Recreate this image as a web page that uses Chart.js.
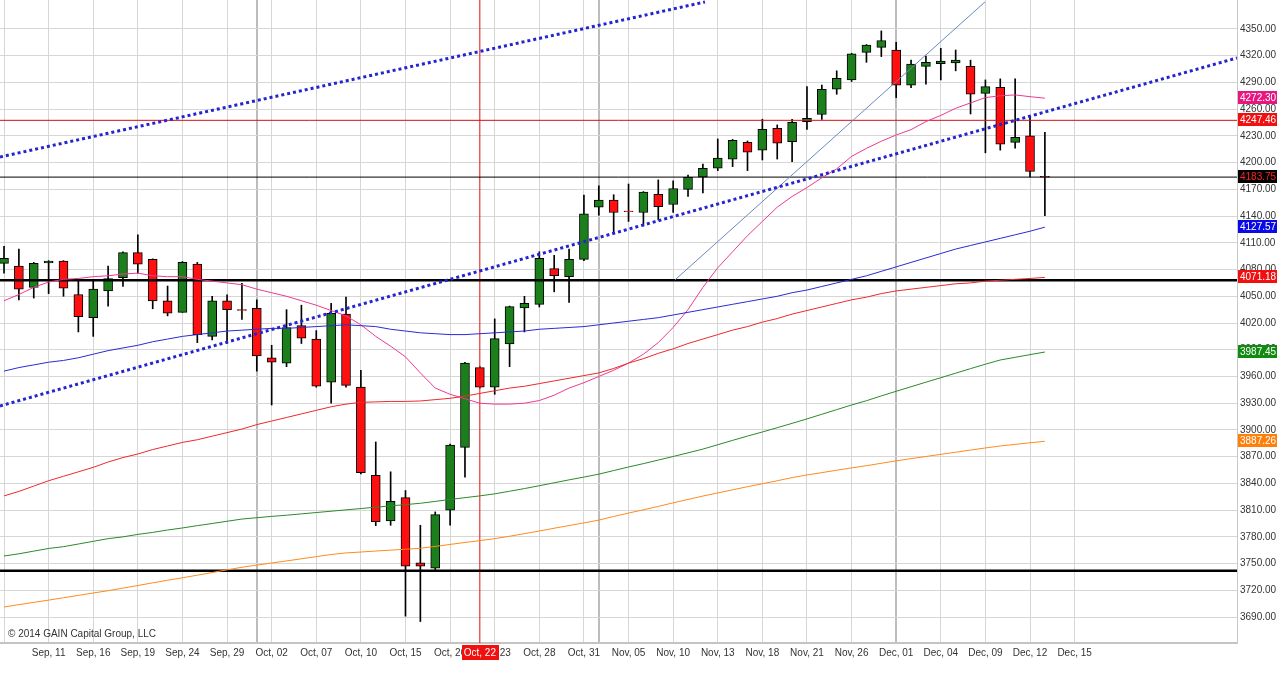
<!DOCTYPE html>
<html><head><meta charset="utf-8">
<script src="https://cdn.jsdelivr.net/npm/chart.js@4.4.1/dist/chart.umd.min.js"></script>
<style>html,body{margin:0;padding:0;background:#fff;overflow:hidden}</style>
</head><body>
<canvas id="c" width="1280" height="673"></canvas>
<script>
// ---- data (one entry per trading session, index 0 = Sep 08 2014) ----
const opens = [4087,4084,4060,4087.5,4089.6,4052,4026,4056,4071,4099, 4091.5,4045,4032,4086,4005,4045,4035,4036.5,3981,3975, 4017,4002,3953.5,4030,3948,3849,3798,3824,3751,3745, 3810,3880.5,3970,3948,3996.5,4037,4041,4081,4072,4091.5, 4150,4158,4145.5,4144,4164.5,4153,4170,4183.6,4193.7,4203.8, 4222.8,4214,4238.6,4223.6,4246,4254,4282.3,4292.8,4323.8,4329.4, 4326.4,4286.8,4308,4311,4312,4308,4277.8,4284.5,4222.8,4230,4184.6];
const highs = [4106,4103,4088,4090,4090,4068,4068,4084,4100,4119, 4092,4061.5,4089,4088,4050,4051.5,4064.5,4046,3995,4035, 4040,4011.5,4042,4049,3967,3886.5,3853,3832,3793,3808, 3884,3976,3971,4024.6,4039,4050,4100,4096,4103,4163.7, 4174,4164,4176,4167.5,4180.6,4179.5,4186,4198.5,4226.6,4226, 4224.3,4248.7,4242.3,4248.7,4285.3,4287,4303,4322.7,4332.5,4347.8, 4335,4315,4319.7,4328.3,4326.4,4315,4292.8,4294,4294,4251.6,4234];
const lows = [4076,4046,4048,4053,4050,4010,4005,4039,4061,4076, 4036,4028,4032,3998,4001,3997,4024,3966,3928,3971, 3997,3948,3930,3948,3850.6,3792.6,3793,3691,3685,3741, 3793,3847,3947,3940,3971,4010,4038,4055,4043,4090, 4141,4120,4134,4129,4135.7,4144,4162,4166,4191,4195.5, 4191,4203,4204,4201,4237.4,4248.6,4276.7,4291,4312.6,4319, 4273,4284,4288,4292.8,4303,4254.6,4211,4214,4216.1,4184,4140.5];
const closes = [4092.6,4058,4087,4089.5,4059,4027,4058,4070,4099,4086, 4044.7,4031,4088,4007,4045,4035,4034,3983,3976,4015, 4003,3949,4031,3950,3852,3797,3820,3747,3747,3805, 3883,3975,3948,4002.5,4038.4,4042,4092.7,4073,4091.5,4142.4, 4158,4144,4145,4167,4150.6,4171,4183.6,4193.7,4205,4225, 4211.6,4237.4,4221.7,4245.3,4249.7,4282.3,4294.6,4322,4332,4337, 4286.8,4310.7,4312.6,4314,4315,4276.7,4285.3,4220.6,4228.4,4190,4183.75];

const pinkMa = [4045,4052,4060,4066,4069,4070,4072,4073,4075,4076, 4073,4072,4072,4069,4067,4065,4063,4058,4054,4050, 4045,4040,4034,4028,4018,4005,3994,3982,3964,3947, 3940,3935,3930,3929,3929,3930,3933,3939,3947,3953, 3960,3967,3975,3985,3998,4015,4035,4060,4082,4100, 4118,4134,4150,4162,4172,4183,4193,4207,4216,4224, 4231,4237,4246,4253,4261,4267,4273,4275,4276,4274,4272.3];
const blueMa = [3966,3970,3973,3976,3978,3981,3985,3989,3992,3995, 3999,4002,4005,4007,4009,4011,4012,4013,4014,4014, 4015,4016,4017,4018,4017,4016,4013,4011,4009,4008, 4007,4007,4008,4009,4010,4011,4013,4014,4015,4016, 4018,4020,4022,4024,4026,4029,4032,4035,4038,4041, 4044,4047,4050,4054,4057,4061,4065,4069,4073,4078, 4083,4088,4093,4098,4103,4107,4111,4115,4119,4123,4127.57];
const redMa = [3826,3831,3837,3843,3848,3853,3858,3864,3869,3873, 3878,3882,3886,3889,3893,3897,3901,3906,3910,3914, 3918,3922,3926,3929,3931,3931.5,3932,3932,3932.5,3934, 3935.5,3938,3941,3944,3947,3949,3952,3955,3958,3961, 3964,3969,3975,3980,3986,3991,3997,4002,4007,4012, 4016,4021,4025,4030,4034,4038,4042,4046,4049,4053, 4056,4058,4060,4062,4064,4065,4067,4068,4069,4070,4071.18];
const greenMa = [3758.5,3761,3764,3767,3769,3772,3775,3778,3780,3782.8, 3785,3787.7,3790,3792.6,3795,3797.5,3800,3801.5,3803,3804.3, 3805.8,3807.3,3808.8,3810.3,3811.8,3813.3,3814.8,3816.2,3817.7,3819.8, 3822,3824,3826,3828.3,3831.2,3834.2,3837.4,3840.7,3844,3847.1, 3850.4,3854.4,3858.4,3862.2,3866.2,3870.2,3874.3,3878.5,3883.4,3888.3, 3893.1,3897.7,3902.5,3907.4,3912.4,3917.6,3922.8,3928,3932.8,3938.2, 3943.4,3948.5,3953.6,3958.6,3963.7,3968.8,3973.8,3978.5,3981.5,3984.5,3987.45];
const orangeMa = [3701.3,3704,3706.5,3709,3711.7,3714.3,3717,3719.6,3722.5,3725.4, 3728.4,3731.3,3734.1,3737,3740,3743,3745.9,3748.3,3750.7,3753, 3755.4,3757.8,3760.2,3762,3763,3764.1,3765.1,3766.1,3767.2,3769.3, 3771.5,3773.7,3775.8,3778,3780.7,3783.6,3786.6,3789.7,3792.7,3795.7, 3798.8,3802.9,3806.7,3810.4,3814.2,3818.2,3822,3825.8,3829.3,3832.8, 3836.3,3839.6,3843,3846.5,3849.5,3852.1,3854.8,3857.4,3859.9,3862.6, 3865.3,3867.8,3870.2,3872.6,3875,3877.4,3879.8,3882,3883.8,3885.6,3887.26];

// support / resistance levels
const thickLevels = [4068, 3742];
const redLevel = 4247.46;
const lastLevel = 4183.75;
const crossIndex = 32;           // Oct, 22 cursor
const crossLabel = 'Oct, 22';

// hand-drawn trend lines: [index, price] end points
const trendUpper = [[-0.27, 4206.3], [47.14, 4380.3]];
const trendLower = [[-0.27, 3926.9], [82.92, 4317.5]];
const trendThin  = [[45.12, 4068.3], [65.97, 4380.3]];

// axis ticks
const xTickIndex = [0,3,6,9,12,15,18,21,24,27,30,33,36,39,42,45,48,51,54,57,60,63,66,69,72];
const xTickLabels = ['','Sep, 11','Sep, 16','Sep, 19','Sep, 24','Sep, 29','Oct, 02','Oct, 07','Oct, 10','Oct, 15','Oct, 20','Oct, 23','Oct, 28','Oct, 31','Nov, 05','Nov, 10','Nov, 13','Nov, 18','Nov, 21','Nov, 26','Dec, 01','Dec, 04','Dec, 09','Dec, 12','Dec, 15'];
const monthStarts = [17, 40, 60];
const yTicks = [3690,3720,3750,3780,3810,3840,3870,3900,3930,3960,3990,4020,4050,4080,4110,4140,4170,4200,4230,4260,4290,4320,4350];

// right-axis value badges
const badgeValues = [4272.30, 4247.46, 4183.75, 4127.57, 4071.18, 3987.45, 3887.26];
const badgeFills  = ['#e8177f', '#f01010', '#000000', '#0a0ae6', '#f01010', '#108a10', '#ff7f0a'];
const badgeTexts  = ['#ffffff', '#ffffff', '#ff2020', '#ffffff', '#ffffff', '#ffffff', '#ffffff'];

// ---- chart ----
const X_MIN = -0.27, X_MAX = 82.92, Y_MIN = 3660.9, Y_MAX = 4382.5;
const FONT = "'Liberation Sans', Arial, sans-serif";
Chart.defaults.font.family = FONT;
Chart.defaults.font.size = 10;
Chart.defaults.color = '#333';

const idx = opens.map((_, i) => i);
const line = (vals, color, w, extra) => Object.assign({
  type: 'line', data: vals, borderColor: color, borderWidth: w,
  pointRadius: 0, tension: 0, order: 1
}, extra || {});
const pts = arr => arr.map(p => ({x: p[0], y: p[1]}));
const series = arr => arr.map((v, i) => ({x: i, y: v}));

const datasets = [
  {type: 'bar', data: idx.map(i => ({x: i, y: [lows[i], highs[i]]})),
   backgroundColor: '#000', borderWidth: 0, barThickness: 1, grouped: false, order: 6},
  {type: 'bar', data: idx.map(i => ({x: i, y: [opens[i], closes[i]]})),
   backgroundColor: idx.map(i => closes[i] >= opens[i] ? '#1b7f1b' : '#ff1010'),
   borderColor: '#000', borderWidth: 1, borderSkipped: false, barThickness: 9, grouped: false, order: 5},
  line(series(orangeMa), '#ff8a1c', 1),
  line(series(greenMa), '#2a8a2a', 1),
  line(series(redMa), '#f02828', 1),
  line(series(blueMa), '#2a2ad8', 1),
  line(series(pinkMa), '#ec3a92', 1),
  ...thickLevels.map(v => line([{x: X_MIN, y: v}, {x: X_MAX, y: v}], '#000', 2.5, {order: 2})),
  line([{x: X_MIN, y: redLevel}, {x: X_MAX, y: redLevel}], '#d01010', 1, {order: 2}),
  line([{x: X_MIN, y: lastLevel}, {x: X_MAX, y: lastLevel}], '#000', 1, {order: 2}),
  line([{x: crossIndex, y: Y_MIN}, {x: crossIndex, y: Y_MAX}], '#e01010', 1, {order: 2}),
  line(pts(trendUpper), '#2424d0', 3, {borderDash: [3, 3], order: 0}),
  line(pts(trendLower), '#2424d0', 3, {borderDash: [3, 3], order: 0}),
  line(pts(trendThin), '#6a88bf', 1, {order: 0})
];

const decorations = {
  id: 'decorations',
  afterDraw(chart) {
    const {ctx, chartArea, scales: {x, y}} = chart;
    ctx.save();
    ctx.font = '10px ' + FONT;
    ctx.textBaseline = 'middle';
    ctx.textAlign = 'left';
    badgeValues.forEach((v, k) => {
      const py = Math.round(y.getPixelForValue(v));
      ctx.fillStyle = badgeFills[k];
      ctx.fillRect(chartArea.right + 1, py - 7, 39, 13);
      ctx.fillStyle = badgeTexts[k];
      ctx.fillText(v.toFixed(2), chartArea.right + 3, py + 0.5);
    });
    const px = x.getPixelForValue(crossIndex);
    ctx.fillStyle = '#f01010';
    ctx.fillRect(Math.round(px - 18), chartArea.bottom + 2, 37, 15);
    ctx.fillStyle = '#fff';
    ctx.textAlign = 'center';
    ctx.fillText(crossLabel, px, chartArea.bottom + 10);
    ctx.textAlign = 'left';
    ctx.fillStyle = '#333';
    ctx.fillText('\u00A9 2014 GAIN Capital Group, LLC', 8, chartArea.bottom - 9);
    ctx.restore();
  }
};

new Chart(document.getElementById('c'), {
  type: 'bar',
  data: {datasets},
  options: {
    responsive: false,
    animation: false,
    events: [],
    devicePixelRatio: 1,
    layout: {padding: 0},
    plugins: {legend: {display: false}, tooltip: {enabled: false}},
    scales: {
      x: {
        type: 'linear', position: 'bottom', min: X_MIN, max: X_MAX,
        offset: false,
        afterFit: s => { s.height = 30; s.paddingLeft = 0; s.paddingRight = 0; },
        afterBuildTicks: s => { s.ticks = xTickIndex.concat([17, 40]).sort((a, b) => a - b).map(v => ({value: v})); },
        ticks: {
          autoSkip: false, maxRotation: 0, padding: 4, color: '#333',
          callback: v => { const k = xTickIndex.indexOf(v); return k >= 0 ? xTickLabels[k] : ''; }
        },
        grid: {
          offset: false, drawTicks: false,
          color: c => (c.tick && monthStarts.includes(c.tick.value)) ? '#bcbcbc' : '#d6d6d6',
          lineWidth: c => (c.tick && monthStarts.includes(c.tick.value)) ? 2 : 1
        },
        border: {display: true, color: '#c4c4c4', width: 2}
      },
      y: {
        type: 'linear', position: 'right', min: Y_MIN, max: Y_MAX,
        afterFit: s => { s.width = 43; s.paddingTop = 0; s.paddingBottom = 0; },
        afterBuildTicks: s => { s.ticks = yTicks.map(v => ({value: v})); },
        ticks: {autoSkip: false, padding: 3, color: '#333', callback: v => Number(v).toFixed(2)},
        grid: {drawTicks: false, color: '#d6d6d6', lineWidth: 1},
        border: {display: true, color: '#c8c8c8', width: 1}
      }
    }
  },
  plugins: [decorations]
});
</script>
</body></html>
